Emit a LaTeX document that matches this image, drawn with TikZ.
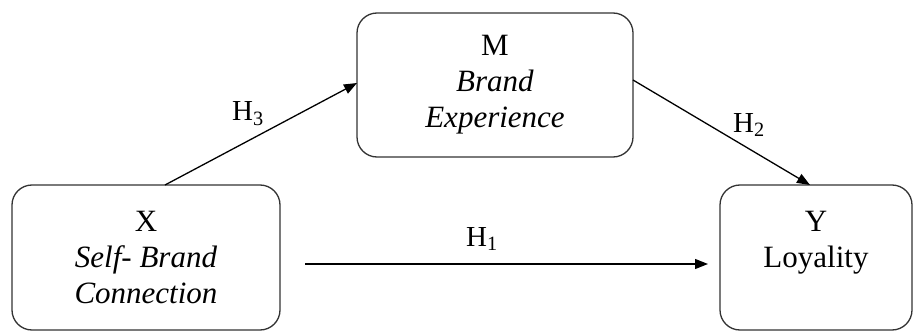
\documentclass[tikz,border=0pt]{standalone}
\usepackage{fontspec}
\setmainfont{Liberation Serif}
\usetikzlibrary{arrows.meta,calc}
\begin{document}
\begin{tikzpicture}[x=1pt,y=-1pt,
  box/.style={draw=black!80, line width=1.3pt, rounded corners=20pt, align=center,
    inner sep=0pt, font=\fontsize{31}{36}\selectfont},
  conn/.style={line width=1.3pt, -{Triangle[length=13pt,width=10pt]}},
  hlab/.style={font=\fontsize{29}{34}\selectfont, inner sep=0pt}]
\useasboundingbox (0,0) rectangle (914,332);
\node[box, minimum width=268pt, minimum height=145pt] (X) at (146,257.5)
  {X\\\textit{Self- Brand}\\\textit{Connection}};
\node[box, minimum width=276pt, minimum height=144pt] (M) at (495,85)
  {M\\\textit{Brand}\\\textit{Experience}};
\node[box, minimum width=192pt, minimum height=145pt] (Y) at (816,257.5)
  {Y\\Loyality\\\mbox{}};
% H3
\coordinate (h3s) at (165,185);
\coordinate (h3e) at (357,83);
\draw[conn] (h3s) -- (h3e);
\node[hlab] (L3) at (248,114) {H\textsubscript{3}};
% H2
\coordinate (h2s) at (633,80);
\coordinate (h2e) at (810,185);
\draw[conn] (h2s) -- (h2e);
\node[hlab] (L2) at (749,125) {H\textsubscript{2}};
% H1
\coordinate (h1s) at (305,264);
\coordinate (h1e) at (708,264);
\draw[conn] (h1s) -- (h1e);
\node[hlab] (L1) at (482,239) {H\textsubscript{1}};
\end{tikzpicture}
\end{document}
